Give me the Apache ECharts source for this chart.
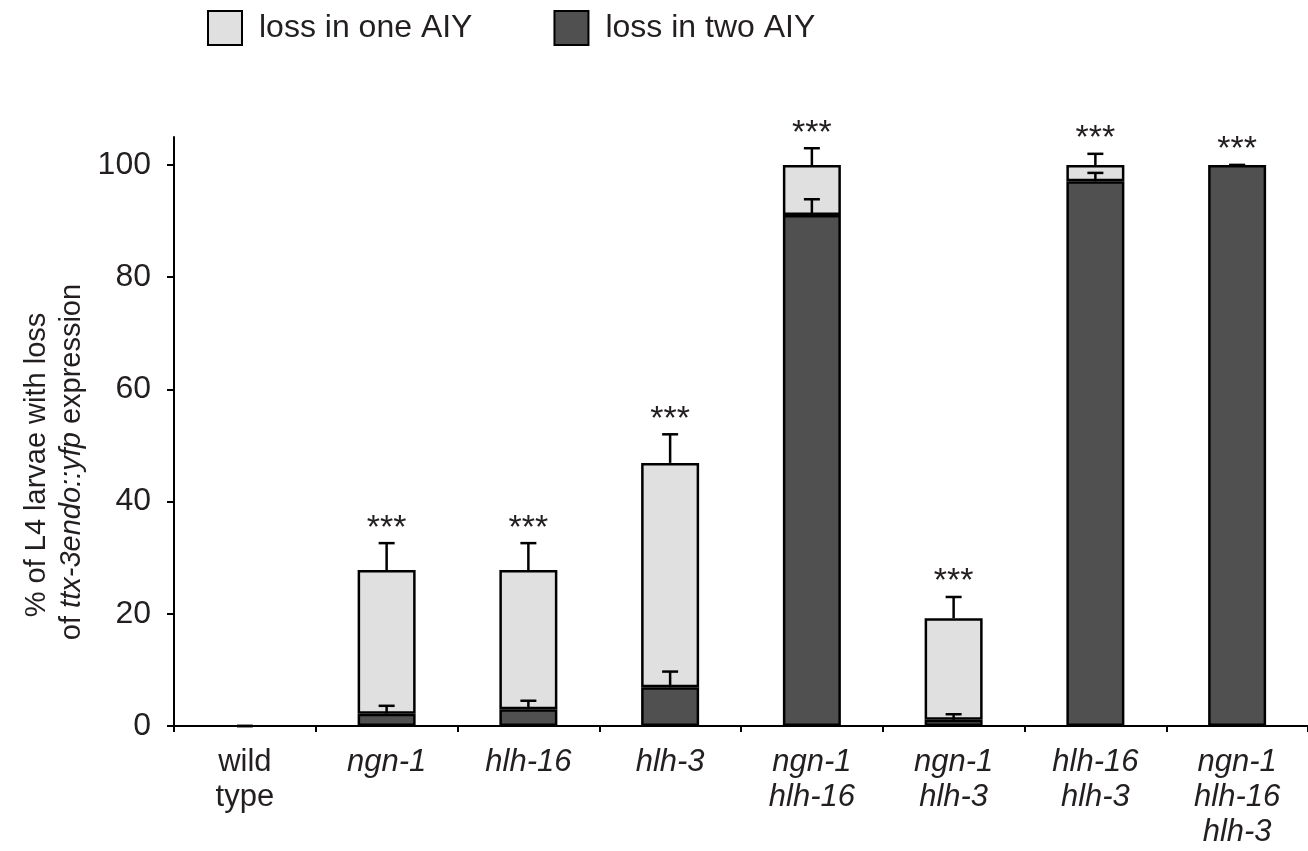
<!DOCTYPE html>
<html>
<head>
<meta charset="utf-8">
<script src="https://cdn.jsdelivr.net/npm/echarts@6/dist/echarts.min.js"></script>
<style>
html,body{margin:0;padding:0;background:#fff;}
#chart{width:1308px;height:851px;}
</style>
</head>
<body>
<div id="chart"></div>
<script>
// ---- data ----
const categories = ['wild\ntype', 'ngn-1', 'hlh-16', 'hlh-3', 'ngn-1\nhlh-16', 'ngn-1\nhlh-3', 'hlh-16\nhlh-3', 'ngn-1\nhlh-16\nhlh-3'];
const lossInTwo = [0, 2.2, 3.0, 6.9, 91.1, 1.1, 97.1, 100];
const lossInOne = [0, 25.6, 24.8, 40.0, 8.9, 18.1, 2.9, 0];
const errInTwo = [0, 1.4, 1.5, 2.8, 2.8, 1.0, 1.5, 0];
const errTotal = [0, 4.8, 4.8, 5.1, 3.0, 3.8, 2.0, 0];
const significance = ['', '***', '***', '***', '***', '***', '***', '***'];
const yTicks = [0, 20, 40, 60, 80, 100];
const seriesNames = ['loss in one AIY', 'loss in two AIY'];

const FONT = 'Liberation Sans, Arial, Helvetica, sans-serif';
const TXT = '#231f20';
const LIGHT = '#e0e0e0';
const DARK = '#505050';

const chart = echarts.init(document.getElementById('chart'), null, {renderer: 'canvas'});

const totals = lossInTwo.map((v, i) => v + lossInOne[i]);
const errTwoData = lossInTwo.map((v, i) => [i, v, v + errInTwo[i]]);
const errTotalData = totals.map((v, i) => [i, v, v + errTotal[i]]);
const starData = totals.map((v, i) => [i, v + errTotal[i]]);

// zero-height segments draw no outline
function barData(arr) {
  return arr.map(v => v === 0 ? {value: v, itemStyle: {borderWidth: 0}} : v);
}

function renderErr(params, api) {
  const x = api.value(0);
  const p0 = api.coord([x, api.value(1)]);
  const p1 = api.coord([x, api.value(2)]);
  const half = 8;
  const st = {stroke: '#000', lineWidth: 2.5, fill: null};
  return {
    type: 'group',
    children: [
      {type: 'line', shape: {x1: p0[0], y1: p0[1], x2: p1[0], y2: p1[1]}, style: st},
      {type: 'line', shape: {x1: p1[0] - half, y1: p1[1], x2: p1[0] + half, y2: p1[1]}, style: st}
    ]
  };
}

function renderStar(params, api) {
  const x = api.value(0);
  const p = api.coord([x, api.value(1)]);
  return {
    type: 'text',
    style: {
      text: significance[x], x: p[0], y: p[1] - 15,
      align: 'center', verticalAlign: 'middle',
      font: '34px ' + FONT, fill: TXT
    }
  };
}

const option = {
  animation: false,
  backgroundColor: '#fff',
  textStyle: {fontFamily: FONT, color: TXT},
  legend: {
    data: seriesNames,
    left: 207, top: 10, padding: 0,
    itemWidth: 34, itemHeight: 34,
    itemGap: 81,
    icon: 'rect',
    textStyle: {fontSize: 32, color: TXT, fontFamily: FONT, padding: [0, 0, 0, 12]},
    selectedMode: false
  },
  grid: {left: 174, right: -2, top: 137, bottom: 125, containLabel: false},
  xAxis: {
    type: 'category',
    data: categories.map((c, i) => i === 0 ? {value: c, textStyle: {fontStyle: 'normal'}} : c),
    boundaryGap: true,
    axisLine: {lineStyle: {color: '#000', width: 2}},
    axisTick: {show: true, length: 6, lineStyle: {color: '#000', width: 2}, alignWithLabel: false},
    axisLabel: {
      interval: 0, margin: 19, fontSize: 31, lineHeight: 35,
      fontStyle: 'italic', color: TXT, fontFamily: FONT
    },
    splitLine: {show: false}
  },
  yAxis: {
    type: 'value',
    min: 0, max: 105, interval: 20,
    axisLine: {show: true, lineStyle: {color: '#000', width: 2}},
    axisTick: {show: true, length: 7, lineStyle: {color: '#000', width: 2}, customValues: yTicks},
    axisLabel: {fontSize: 32, color: TXT, margin: 23, fontFamily: FONT, customValues: yTicks},
    splitLine: {show: false}
  },
  graphic: [
    {
      type: 'text', x: 37, y: 465, rotation: Math.PI / 2,
      style: {text: '% of L4 larvae with loss', font: '29px ' + FONT, fill: TXT, align: 'center', verticalAlign: 'middle'}
    },
    {
      type: 'text', x: 72, y: 462, rotation: Math.PI / 2,
      style: {
        text: '{n|of }{i|ttx-3endo::yfp}{n| expression}',
        align: 'center', verticalAlign: 'middle',
        rich: {
          n: {fontSize: 29, fontFamily: FONT, fill: TXT, color: TXT},
          i: {fontSize: 29, fontFamily: FONT, fontStyle: 'italic', fill: TXT, color: TXT}
        }
      }
    }
  ],
  series: [
    {
      name: seriesNames[1], type: 'bar', stack: 'loss', barWidth: 58,
      data: barData(lossInTwo),
      itemStyle: {color: DARK, borderColor: '#000', borderWidth: 2.5},
      z: 2
    },
    {
      name: seriesNames[0], type: 'bar', stack: 'loss', barWidth: 58,
      data: barData(lossInOne),
      itemStyle: {color: LIGHT, borderColor: '#000', borderWidth: 2.5},
      z: 2
    },
    {
      type: 'custom', name: 'errTwo', renderItem: renderErr, data: errTwoData,
      encode: {x: 0, y: [1, 2]}, z: 5, silent: true
    },
    {
      type: 'custom', name: 'errTotal', renderItem: renderErr, data: errTotalData,
      encode: {x: 0, y: [1, 2]}, z: 5, silent: true
    },
    {
      type: 'custom', name: 'stars', renderItem: renderStar, data: starData,
      encode: {x: 0, y: 1}, z: 6, silent: true
    }
  ]
};
chart.setOption(option);
</script>
</body>
</html>
